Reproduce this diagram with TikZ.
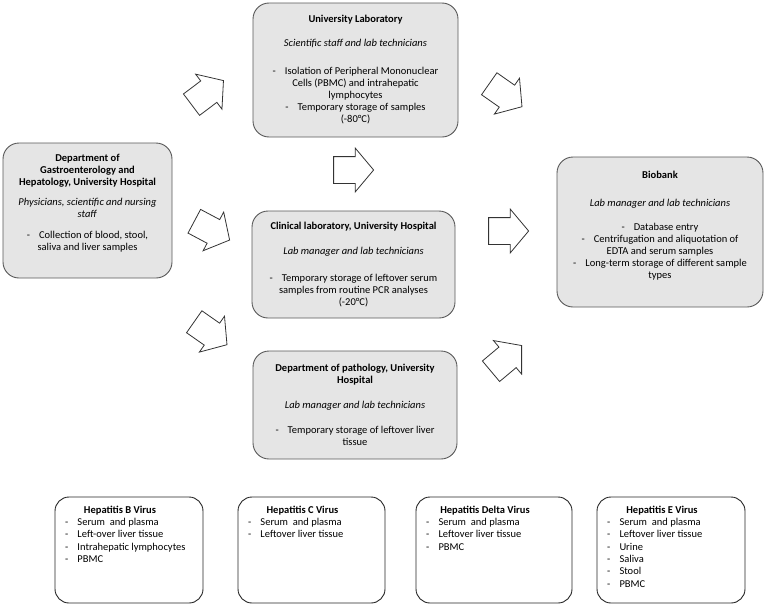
\documentclass[tikz,border=0pt]{standalone}
\usepackage{fontspec}
\setmainfont{Carlito}
\usetikzlibrary{shapes.arrows}
\newcommand{\vitem}[1]{\par\hspace*{5pt}\makebox[12.5pt][l]{-}#1}
\newcommand{\vtitle}[1]{\makebox[\linewidth][c]{\textbf{#1}\hspace{18pt}}}
\begin{document}
\begin{tikzpicture}[x=1pt,y=-1pt]
\tikzstyle{site}=[draw=black!65, fill=black!10, line width=0.9pt, rounded corners=16pt, align=center, inner sep=0pt, font=\fontsize{10.5}{12}\selectfont]
\tikzstyle{virus}=[draw=black!85, fill=white, line width=0.9pt, rounded corners=14pt, inner xsep=5pt, inner ysep=5pt, font=\fontsize{10.5}{12.3}\selectfont]
\tikzstyle{flow}=[single arrow, draw=black!80, fill=white, line width=0.8pt, minimum height=40pt, inner xsep=0pt, inner ysep=13pt, single arrow head extend=8.5pt, single arrow tip angle=100]
\useasboundingbox (0,0) rectangle (765,605);
\node[site, minimum width=169pt, minimum height=135pt] (gastro) at (87.5,210.5) {\textbf{Department of}\\ \textbf{Gastroenterology and}\\ \textbf{Hepatology, University Hospital}\\[8pt] \textit{Physicians, scientific and nursing}\\ \textit{staff}\\[9pt] -\hspace{9pt}Collection of blood, stool,\\ saliva and liver samples\\[4pt] \mbox{}};
\node[site, minimum width=205pt, minimum height=134pt] (ulab) at (355.5,70) {\textbf{University Laboratory}\\[12pt] \textit{Scientific staff and lab technicians}\\[16pt] -\hspace{9pt}Isolation of Peripheral Mononuclear\\ Cells (PBMC) and intrahepatic\\ lymphocytes\\ -\hspace{9pt}Temporary storage of samples\\ (-80°C)};
\node[site, minimum width=203pt, minimum height=107pt] (clin) at (353.5,264.5) {\textbf{Clinical laboratory, University Hospital}\\[13pt] \textit{Lab manager and lab technicians}\\[15pt] -\hspace{9pt}Temporary storage of leftover serum\\ samples from routine PCR analyses\\ (-20°C)};
\node[site, minimum width=204pt, minimum height=108pt] (path) at (355,405) {\textbf{Department of pathology, University}\\ \textbf{Hospital}\\[13pt] \textit{Lab manager and lab technicians}\\[13pt] -\hspace{9pt}Temporary storage of leftover liver\\ tissue};
\node[site, minimum width=206pt, minimum height=150pt] (bio) at (660,232) {\textbf{Biobank}\\[16pt] \textit{Lab manager and lab technicians}\\[12pt] -\hspace{9pt}Database entry\\ -\hspace{9pt}Centrifugation and aliquotation of\\ EDTA and serum samples\\ -\hspace{9pt}Long-term storage of different sample\\ types\\[3pt] \mbox{}};
\node[flow, rotate=37] (a1) at (203,96) {};
\node[flow, rotate=-28] (a2) at (207,228) {};
\node[flow, rotate=-35] (a3) at (206,330) {};
\node[flow] (a4) at (348,170) {};
\node[flow, rotate=-35] (a5) at (501,92) {};
\node[flow] (a6) at (503,231) {};
\node[flow, rotate=40] (a7) at (502,362) {};
\node[virus] (hbv) at (129,550) {\parbox[c][96pt][t]{138pt}{\vspace{4pt}\vtitle{Hepatitis B Virus}\vitem{Serum\ \ and plasma}\vitem{Left-over liver tissue}\vitem{Intrahepatic lymphocytes}\vitem{PBMC}}};
\node[virus] (hcv) at (311.5,550) {\parbox[c][96pt][t]{137pt}{\vspace{4pt}\vtitle{Hepatitis C Virus}\vitem{Serum\ \ and plasma}\vitem{Leftover liver tissue}}};
\node[virus] (hdv) at (494,550) {\parbox[c][96pt][t]{146pt}{\vspace{4pt}\vtitle{Hepatitis Delta Virus}\vitem{Serum\ \ and plasma}\vitem{Leftover liver tissue}\vitem{PBMC}}};
\node[virus] (hev) at (671,550) {\parbox[c][96pt][t]{138pt}{\vspace{4pt}\vtitle{Hepatitis E Virus}\vitem{Serum\ \ and plasma}\vitem{Leftover liver tissue}\vitem{Urine}\vitem{Saliva}\vitem{Stool}\vitem{PBMC}}};
\end{tikzpicture}
\end{document}
